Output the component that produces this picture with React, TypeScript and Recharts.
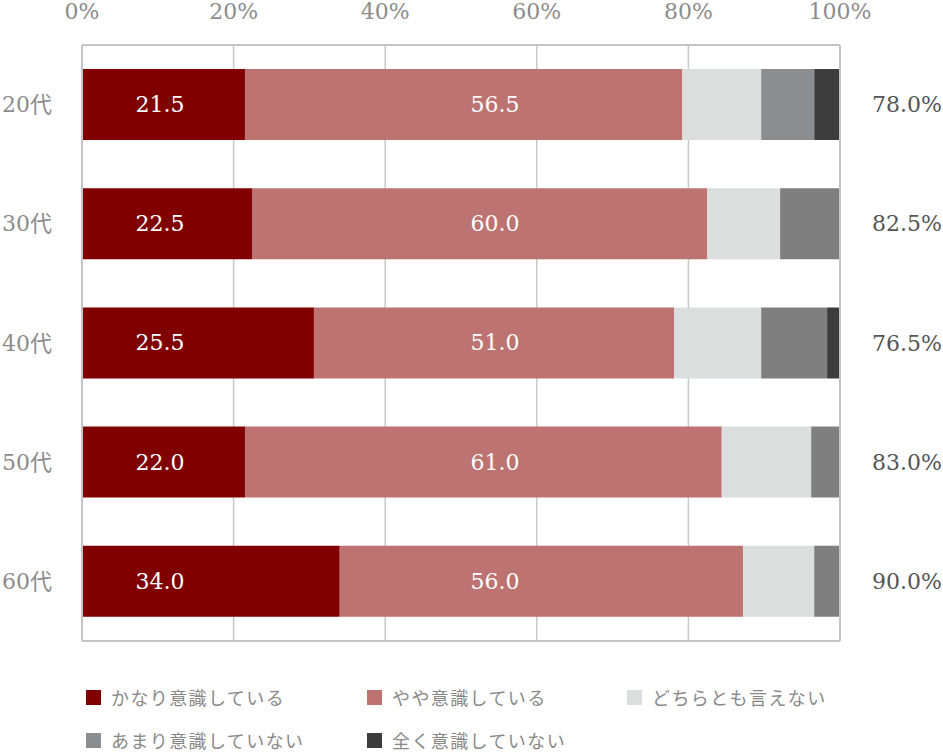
import { BarChart, Bar, XAxis, YAxis, CartesianGrid, Cell, LabelList } from 'recharts'

const AGES = ['20代', '30代', '40代', '50代', '60代']

const SERIES = ['かなり意識している', 'やや意識している', 'どちらとも言えない', 'あまり意識していない', '全く意識していない']

// bar lengths as drawn (%)
const KANARI = [21.5, 22.5, 30.6, 21.5, 34.0]
const YAYA = [57.7, 60.0, 47.5, 62.9, 53.2]
const DOCHIRA = [10.4, 9.6, 11.5, 11.8, 9.4]
const AMARI = [7.0, 7.9, 8.7, 3.8, 3.4]
const MATTAKU = [3.4, 0, 1.7, 0, 0]

// printed numbers
const KANARI_LABELS = [21.5, 22.5, 25.5, 22.0, 34.0]
const YAYA_LABELS = [56.5, 60.0, 51.0, 61.0, 56.0]
const TOTALS = [78.0, 82.5, 76.5, 83.0, 90.0]

const TICKS = [0, 20, 40, 60, 80, 100]

const COLORS = ['#800000', '#bd7371', '#dcdedd', '#7f7f7f', '#3c3c3c']
const AMARI_FIRST = '#8b8e91'

const NUM_FONT = '"DejaVu Serif", "Noto Sans CJK JP", serif'
const JP_FONT = '"Noto Sans CJK JP", sans-serif'
const LINE = '#c4c4c4'

const W = 943
const H = 660
const LEFT_W = 82
const RIGHT_W = 103
const PLOT_W = W - LEFT_W - RIGHT_W

// where the in-bar numbers sit (% of axis)
const LABEL_AT = [10.3, 54.5]

const data = AGES.map((age, i) => ({
  age,
  s1: KANARI[i],
  s2: YAYA[i],
  s3: DOCHIRA[i],
  s4: AMARI[i],
  s5: MATTAKU[i],
  l1: KANARI_LABELS[i].toFixed(1),
  l2: YAYA_LABELS[i].toFixed(1),
  total: TOTALS[i].toFixed(1) + '%',
}))

function inBarLabel(slot: number) {
  return (p: any) => {
    const cx = LEFT_W + (LABEL_AT[slot] * PLOT_W) / 100
    const cy = Number(p.y) + Number(p.height) / 2
    return (
      <text x={cx} y={cy} textAnchor="middle" dominantBaseline="central"
        fill="#fff" fontFamily={NUM_FONT} fontSize={22}>
        {p.value}
      </text>
    )
  }
}

const TopTick = ({ x, y, payload }: any) => (
  <text x={x} y={y} textAnchor="middle" fill="#8c8c8c" fontFamily={NUM_FONT} fontSize={22}>
    {payload.value}%
  </text>
)

const AgeTick = ({ x, y, payload }: any) => (
  <text x={x} y={y} textAnchor="end" dominantBaseline="central" fill="#8c8c8c" fontFamily={NUM_FONT} fontSize={22}>
    {payload.value}
  </text>
)

const TotalTick = ({ x, y, index }: any) => (
  <text x={x} y={y} textAnchor="start" dominantBaseline="central" fill="#555" fontFamily={NUM_FONT} fontSize={22}>
    {data[index]?.total}
  </text>
)

function ChartLegend() {
  return (
    <div style={{
      position: 'absolute', left: 86, top: 687, display: 'grid',
      gridTemplateColumns: '281px 260px 260px', rowGap: 23,
      fontFamily: JP_FONT, fontSize: 18, letterSpacing: 1.4, color: '#888',
    }}>
      {SERIES.map((name, i) => (
        <div key={name} style={{ display: 'flex', alignItems: 'center', height: 20 }}>
          <span style={{
            display: 'inline-block', width: 15, height: 15, marginRight: 10,
            background: i === 3 ? AMARI_FIRST : COLORS[i],
          }} />
          <span style={{ lineHeight: '20px' }}>{name}</span>
        </div>
      ))}
    </div>
  )
}

export default function App() {
  return (
    <div style={{ position: 'absolute', left: 0, top: 0, width: W, height: 752, background: '#fff' }}>
      <BarChart width={W} height={H} data={data} layout="vertical"
        margin={{ top: 0, right: 0, bottom: 0, left: 0 }}>
        <CartesianGrid horizontal={false} stroke="#c8c8c8" strokeWidth={1.5} />
        <XAxis type="number" orientation="top" domain={[0, 100]} ticks={TICKS} height={45}
          axisLine={{ stroke: LINE, strokeWidth: 2 }} tickLine={false} tickSize={0} tickMargin={26}
          tick={<TopTick />} interval={0} />
        <XAxis xAxisId="bottom" type="number" orientation="bottom" domain={[0, 100]} height={19}
          axisLine={{ stroke: LINE, strokeWidth: 2 }} tickLine={false} tick={false} />
        <YAxis type="category" dataKey="age" width={LEFT_W}
          axisLine={{ stroke: LINE, strokeWidth: 2 }} tickLine={false} tickSize={0} tickMargin={30}
          tick={<AgeTick />} />
        <YAxis yAxisId="right" type="category" dataKey="age" orientation="right" width={RIGHT_W}
          axisLine={{ stroke: LINE, strokeWidth: 2 }} tickLine={false} tickSize={0} tickMargin={32}
          tick={<TotalTick />} />
        <Bar dataKey="s1" stackId="a" fill={COLORS[0]} barSize={71} isAnimationActive={false}>
          <LabelList dataKey="l1" content={inBarLabel(0)} />
        </Bar>
        <Bar dataKey="s2" stackId="a" fill={COLORS[1]} barSize={71} isAnimationActive={false}>
          <LabelList dataKey="l2" content={inBarLabel(1)} />
        </Bar>
        <Bar dataKey="s3" stackId="a" fill={COLORS[2]} barSize={71} isAnimationActive={false} />
        <Bar dataKey="s4" stackId="a" fill={COLORS[3]} barSize={71} isAnimationActive={false}>
          {data.map((d, i) => (
            <Cell key={d.age} fill={i === 0 ? AMARI_FIRST : COLORS[3]} />
          ))}
        </Bar>
        <Bar dataKey="s5" stackId="a" fill={COLORS[4]} barSize={71} isAnimationActive={false} />
      </BarChart>
      <ChartLegend />
    </div>
  )
}
